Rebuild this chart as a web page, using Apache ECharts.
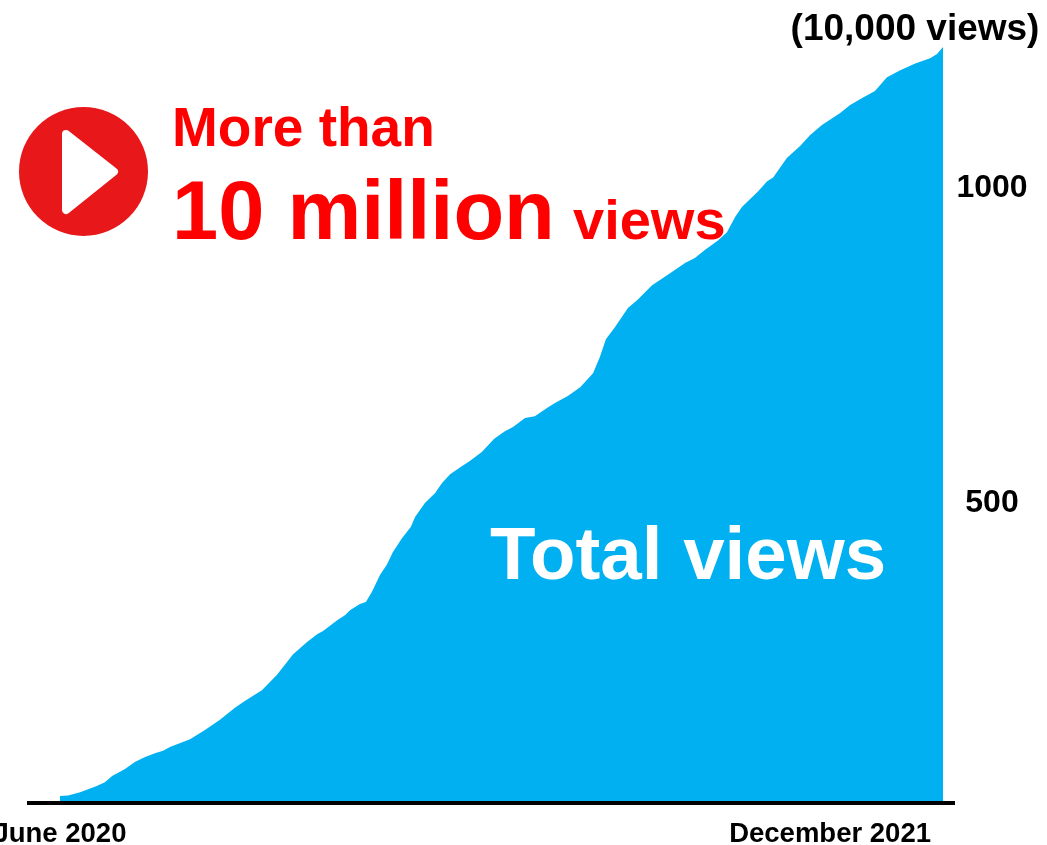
<!DOCTYPE html>
<html>
<head>
<meta charset="utf-8">
<title>Total views</title>
<script src="https://cdn.jsdelivr.net/npm/echarts@6/dist/echarts.min.js"></script>
<style>
  html, body { margin: 0; padding: 0; background: #fff; }
  #chart { width: 1047px; height: 845px; }
</style>
</head>
<body>
<div id="chart"></div>
<script>
// Months elapsed since June 2020
const monthsElapsed = [
  0.00, 0.19, 0.47, 0.86, 1.05, 1.22, 1.52, 1.75, 1.99, 2.22, 2.41, 2.57, 3.04, 3.39, 3.74, 4.09,
  4.32, 4.72, 5.07, 5.45, 5.77, 6.01, 6.15, 6.48, 6.66, 6.78, 7.01, 7.15, 7.29, 7.48, 7.64, 7.78,
  7.99, 8.20, 8.30, 8.53, 8.77, 8.93, 9.12, 9.40, 9.58, 9.86, 10.15, 10.40, 10.59, 10.87, 11.10, 11.41,
  11.57, 11.87, 12.16, 12.46, 12.62, 12.76, 12.97, 13.28, 13.49, 13.84, 14.26, 14.61, 14.84, 15.08,
  15.38, 15.59, 15.78, 15.94, 16.32, 16.53, 16.67, 16.99, 17.30, 17.53, 17.81, 18.05, 18.23, 18.47,
  18.75, 19.05, 19.33, 19.64, 19.99, 20.34, 20.50, 20.64
];
// Cumulative views, in units of 10,000
const totalViews = [
  35, 36, 41, 51, 57, 67, 78, 89, 97, 103, 107, 113, 125, 140, 156, 175,
  186, 203, 227, 260, 279, 292, 297, 314, 322, 330, 340, 343, 359, 386, 402, 422,
  444, 462, 478, 500, 516, 532, 546, 559, 567, 581, 602, 614, 621, 635, 638, 652,
  659, 670, 684, 706, 732, 760, 779, 810, 822, 846, 865, 881, 889, 902,
  917, 930, 954, 970, 995, 1011, 1017, 1048, 1067, 1084, 1100, 1111, 1119, 1132,
  1143, 1154, 1176, 1187, 1198, 1206, 1213, 1224
];
const xTickValues = [0, 18];
const xTickLabels = ['June 2020', 'December 2021'];
const yTickValues = [500, 1000];
const yUnitLabel = '(10,000 views)';

const FONT = '"Liberation Sans", Arial, sans-serif';
const chart = echarts.init(document.getElementById('chart'), null, { renderer: 'canvas' });

function boldText(text, x, y, size, fill, align) {
  return {
    type: 'text',
    z: 10,
    style: {
      text, x, y, fill,
      font: 'bold ' + size + 'px ' + FONT,
      align: align || 'left',
      verticalAlign: 'middle'
    }
  };
}

chart.setOption({
  animation: false,
  backgroundColor: '#ffffff',
  grid: { left: 27, right: 92, top: 47, bottom: 42, outerBoundsMode: 'none' },
  xAxis: {
    type: 'value',
    min: -0.77,
    max: 20.92,
    z: 5,
    splitLine: { show: false },
    axisTick: { show: false },
    axisLine: { show: true, lineStyle: { color: '#000000', width: 4, cap: 'butt' } },
    axisLabel: {
      customValues: xTickValues,
      formatter: (v) => xTickLabels[xTickValues.indexOf(v)],
      margin: 17,
      color: '#000000',
      fontFamily: FONT,
      fontWeight: 'bold',
      fontSize: 27.5,
      hideOverlap: false
    }
  },
  yAxis: {
    type: 'value',
    position: 'right',
    min: 24,
    max: 1224,
    splitLine: { show: false },
    axisTick: { show: false },
    axisLine: { show: false },
    axisLabel: {
      customValues: yTickValues,
      formatter: (v) => String(v),
      margin: 37,
      align: 'center',
      padding: [6, 0, 0, 0],
      color: '#000000',
      fontFamily: FONT,
      fontWeight: 'bold',
      fontSize: 32
    }
  },
  series: [{
    type: 'line',
    name: 'Total views',
    data: monthsElapsed.map((m, i) => [m, totalViews[i]]),
    showSymbol: false,
    smooth: false,
    lineStyle: { width: 0 },
    areaStyle: { color: '#00B0F0', opacity: 1 },
    silent: true
  }],
  graphic: [
    // Play badge
    { type: 'circle', z: 10, shape: { cx: 83.5, cy: 171.5, r: 64.5 }, style: { fill: '#E8171A' } },
    {
      type: 'polygon',
      z: 11,
      shape: { points: [[66, 134], [114, 171.7], [66, 210]] },
      style: { fill: '#ffffff', stroke: '#ffffff', lineWidth: 8, lineJoin: 'round' }
    },
    // Unit note above the value axis
    boldText(yUnitLabel, 915, 29.5, 37, '#000000', 'center'),
    // Headline and area caption
    boldText('More than', 172, 131, 55, '#FF0000'),
    boldText('10 million', 172, 216, 83, '#FF0000'),
    boldText('views', 573, 224, 56, '#FF0000'),
    boldText('Total views', 490, 558, 74.5, '#FFFFFF')
  ]
});
</script>
</body>
</html>
